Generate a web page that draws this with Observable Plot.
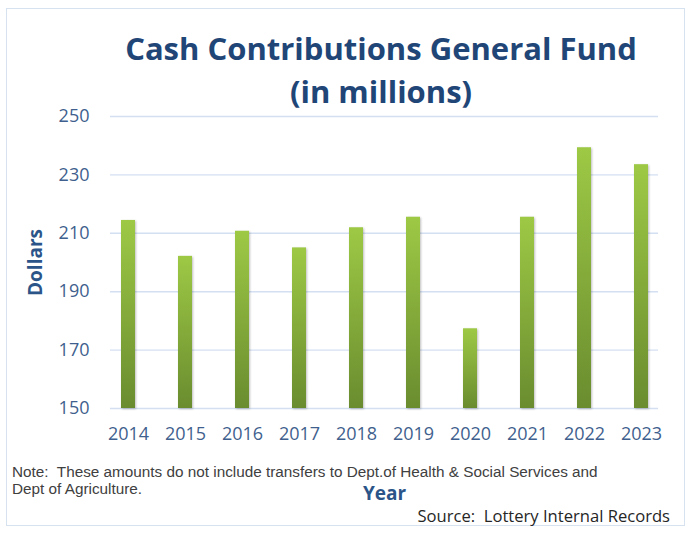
<!DOCTYPE html>
<html>
<head>
<meta charset="utf-8">
<script src="https://cdn.jsdelivr.net/npm/d3@7"></script>
<script src="https://cdn.jsdelivr.net/npm/@observablehq/plot@0.6"></script>
<style>
  body { margin: 0; background: #fff; }
  #wrap { position: relative; width: 691px; height: 533px; overflow: hidden; font-family: "Open Sans", sans-serif; background: #fff; }
  #frame { position: absolute; left: 6px; top: 8px; width: 679px; height: 518px; border: 1px solid #d7e2f1; box-sizing: border-box; }
  #chart { position: absolute; left: 0; top: 0; }
  #title { position: absolute; left: 110px; width: 542px; top: 27px; text-align: center; font-weight: 700; font-size: 31px; line-height: 43px; color: #1f4677; white-space: nowrap; }
  .note { position: absolute; left: 12px; font-family: "Liberation Sans", Arial, sans-serif; font-size: 15.3px; line-height: 17px; color: #404040; white-space: nowrap; }
  #note1 { top: 462.5px; }
  #note2 { top: 480px; }
  #source { position: absolute; right: 21px; top: 506px; font-size: 16.6px; line-height: 20px; color: #262626; white-space: nowrap; }
</style>
</head>
<body>
<div id="wrap">
  <div id="frame"></div>
  <div id="chart"></div>
  <div id="title">Cash Contributions General Fund<br>(in millions)</div>
  <div class="note" id="note1">Note:&nbsp; These amounts do not include transfers to Dept.of Health &amp; Social Services and</div>
  <div class="note" id="note2">Dept of Agriculture.</div>
  <div id="source">Source:&nbsp; Lottery Internal Records</div>
</div>
<script>
const years = ["2014", "2015", "2016", "2017", "2018", "2019", "2020", "2021", "2022", "2023"];
const values = [214.4, 202.1, 210.7, 205.0, 211.9, 215.5, 177.3, 215.5, 239.3, 233.5];
const yTicks = [150, 170, 190, 210, 230, 250];
const yDomain = [150, 250];
const yLabel = "Dollars";
const xLabel = "Year";

const data = years.map((year, i) => ({year, value: values[i]}));
const tickColor = "#3f5f8e";

const svg = Plot.plot({
  width: 691,
  height: 533,
  marginLeft: 110,
  marginRight: 33,
  marginTop: 116,
  marginBottom: 125,
  style: {fontFamily: "'Open Sans', sans-serif", fontSize: "18px", color: tickColor, background: "transparent", overflow: "visible"},
  x: {domain: years, paddingInner: 0.756, paddingOuter: 0.15, align: 0.5, label: null},
  y: {domain: yDomain, ticks: yTicks, label: null},
  marks: [
    Plot.ruleY(yTicks, {stroke: "#d4e0f1", strokeWidth: 1.4}),
    Plot.barY(data, {x: "year", y1: yDomain[0], y2: "value", fill: "url(#barGrad)"}),
    Plot.axisY({ticks: yTicks, tickSize: 0, tickPadding: 21, label: yLabel, labelArrow: false, labelAnchor: "center", labelOffset: 82, color: tickColor}),
    Plot.axisX({tickSize: 0, tickPadding: 19, label: xLabel, labelArrow: false, labelAnchor: "center", labelOffset: 91, color: tickColor})
  ]
});

const sel = d3.select(svg);
const defs = sel.insert("defs", ":first-child");
const g = defs.append("linearGradient").attr("id", "barGrad").attr("x1", 0).attr("y1", 0).attr("x2", 0).attr("y2", 1);
g.append("stop").attr("offset", "0%").attr("stop-color", "#9dc945");
g.append("stop").attr("offset", "100%").attr("stop-color", "#6a8c2f");
sel.selectAll('[aria-label="bar"]').style("filter", "drop-shadow(1px 1px 1px rgba(0,0,0,0.25))");
sel.selectAll('[aria-label="y-axis label"], [aria-label="x-axis label"]')
  .style("font-weight", "700").style("font-size", "19px").attr("fill", "#2b5589");
sel.selectAll('[aria-label="y-axis label"] text').text(yLabel);
sel.selectAll('[aria-label="x-axis label"] text').text(xLabel);

document.getElementById("chart").appendChild(svg);
</script>
</body>
</html>
